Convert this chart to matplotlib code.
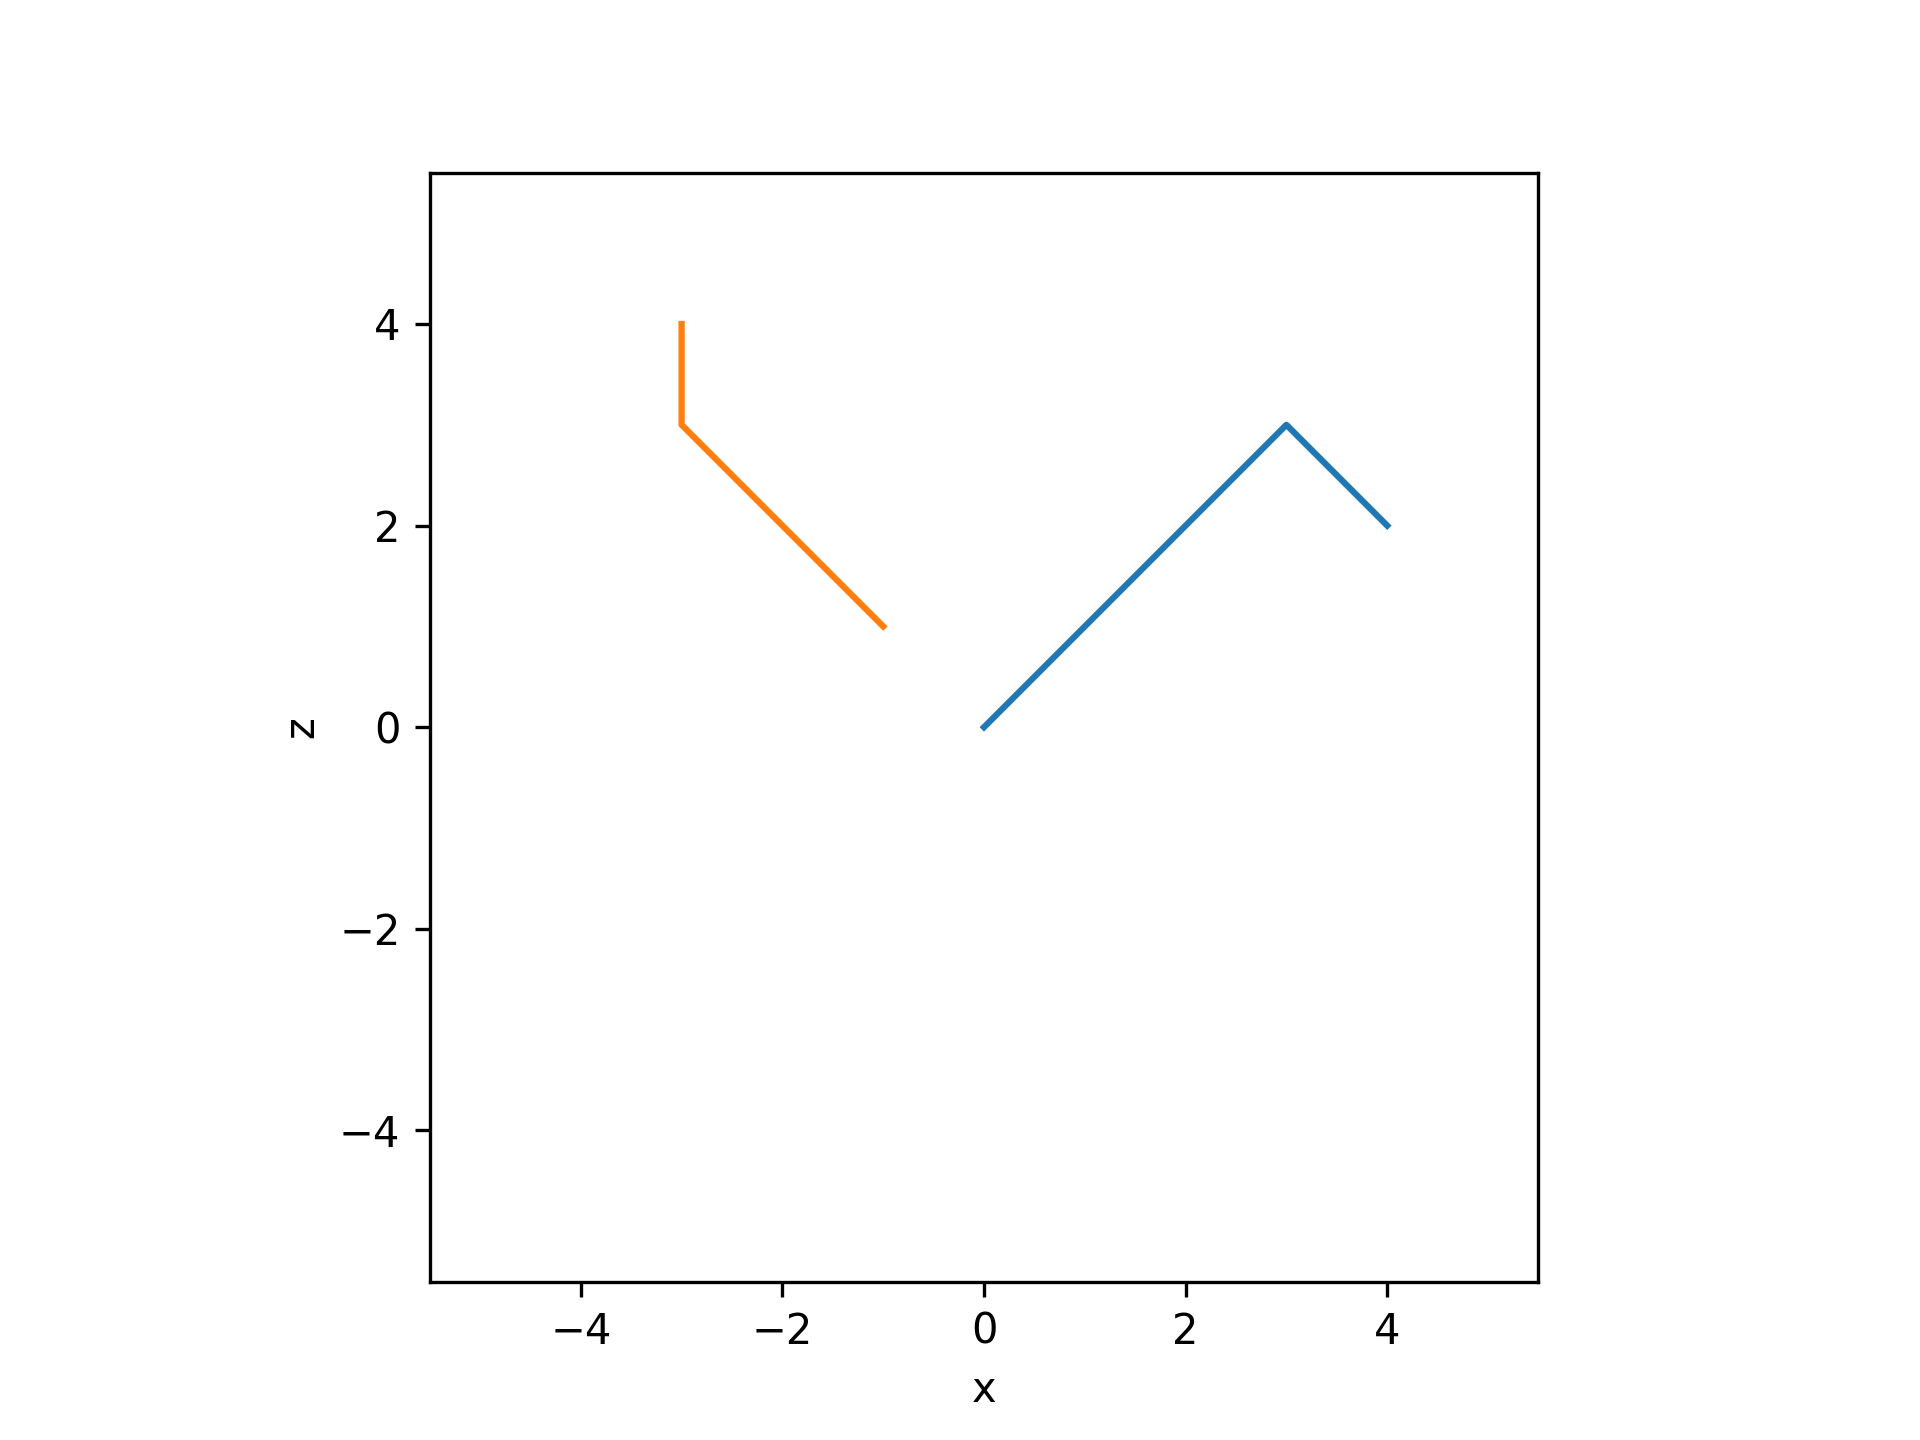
import matplotlib
matplotlib.use("Agg")
import matplotlib.pyplot as plt

blue_x = [0, 3, 4]
blue_z = [0, 3, 2]
orange_x = [-1, -3, -3]
orange_z = [1, 3, 4]

fig, ax = plt.subplots(figsize=(6.4, 4.8), dpi=300)
ax.plot(blue_x, blue_z, color="#1f77b4")
ax.plot(orange_x, orange_z, color="#ff7f0e")
ax.set_xlim(-5.5, 5.5)
ax.set_ylim(-5.5, 5.5)
ax.set_aspect("equal")
ax.set_xticks([-4, -2, 0, 2, 4])
ax.set_yticks([-4, -2, 0, 2, 4])
ax.set_xlabel("x")
ax.set_ylabel("z")
fig.savefig("out.png", dpi=300)
